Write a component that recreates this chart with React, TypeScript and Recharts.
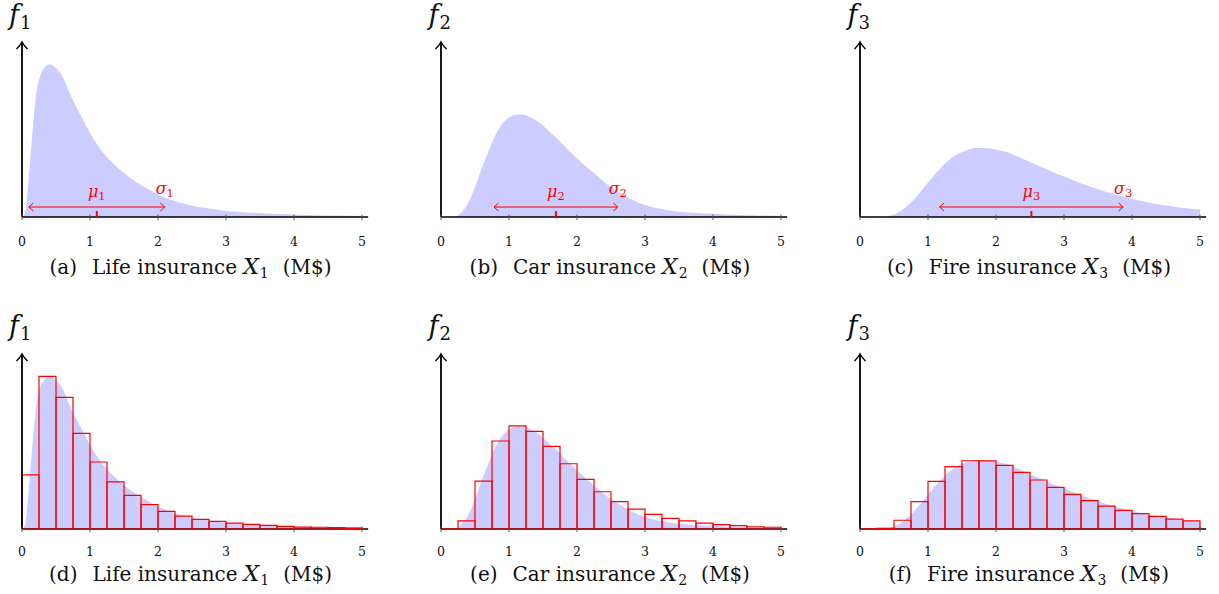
import React from 'react';
import {
  ComposedChart,
  Area,
  XAxis,
  YAxis,
  ReferenceArea,
  ReferenceLine,
  ReferenceDot,
} from 'recharts';

// ---------- data ----------
// x positions (M$) at which the densities are sampled
const X_GRID = [
  0, 0.05, 0.1, 0.15, 0.2, 0.3, 0.4, 0.5, 0.6, 0.7, 0.8, 0.9, 1.0, 1.1, 1.2, 1.3, 1.4, 1.5,
  1.6, 1.7, 1.8, 1.9, 2.0, 2.1, 2.2, 2.3, 2.4, 2.5, 2.6, 2.7, 2.8, 2.9, 3.0, 3.2, 3.4, 3.6,
  3.8, 4.0, 4.2, 4.4, 4.6, 4.8, 5.0,
];

const LIFE_DENSITY = [
  0, 0.029, 0.229, 0.463, 0.669, 0.834, 0.873, 0.851, 0.8, 0.709, 0.629, 0.554, 0.48, 0.417,
  0.365, 0.322, 0.285, 0.251, 0.22, 0.194, 0.171, 0.149, 0.129, 0.112, 0.097, 0.085, 0.074,
  0.065, 0.057, 0.051, 0.046, 0.04, 0.034, 0.029, 0.024, 0.02, 0.017, 0.014, 0.012, 0.01,
  0.008, 0.007, 0.006,
];

const CAR_DENSITY = [
  0, 0, 0, 0, 0.001, 0.026, 0.08, 0.171, 0.28, 0.377, 0.469, 0.531, 0.569, 0.585, 0.586,
  0.573, 0.551, 0.523, 0.486, 0.451, 0.411, 0.371, 0.334, 0.3, 0.267, 0.234, 0.2, 0.171,
  0.146, 0.123, 0.1, 0.083, 0.069, 0.049, 0.035, 0.027, 0.022, 0.018, 0.015, 0.012, 0.01,
  0.008, 0.006,
];

const FIRE_DENSITY = [
  0, 0, 0, 0, 0, 0.001, 0.005, 0.014, 0.034, 0.066, 0.103, 0.149, 0.197, 0.243, 0.286,
  0.323, 0.351, 0.371, 0.386, 0.394, 0.394, 0.391, 0.386, 0.377, 0.366, 0.349, 0.331, 0.314,
  0.297, 0.28, 0.263, 0.246, 0.231, 0.2, 0.171, 0.146, 0.123, 0.103, 0.086, 0.071, 0.06,
  0.05, 0.043,
];

// histogram bin edges (M$) and normalised bin heights
const BIN_EDGES = [
  0, 0.25, 0.5, 0.75, 1, 1.25, 1.5, 1.75, 2, 2.25, 2.5, 2.75, 3, 3.25, 3.5, 3.75, 4, 4.25,
  4.5, 4.75, 5,
];

const LIFE_HIST = [
  0.309, 0.872, 0.752, 0.547, 0.383, 0.269, 0.192, 0.139, 0.101, 0.074, 0.055, 0.044, 0.034,
  0.027, 0.021, 0.015, 0.011, 0.01, 0.008, 0.006,
];

const CAR_HIST = [
  0, 0.046, 0.274, 0.503, 0.589, 0.558, 0.472, 0.373, 0.284, 0.213, 0.156, 0.114, 0.084,
  0.061, 0.046, 0.034, 0.025, 0.019, 0.013, 0.01,
];

const FIRE_HIST = [
  0, 0.004, 0.05, 0.156, 0.272, 0.356, 0.39, 0.389, 0.364, 0.324, 0.28, 0.238, 0.198, 0.162,
  0.131, 0.107, 0.088, 0.072, 0.057, 0.046,
];

// mean and standard deviation of each claim size
const MEANS = [1.1, 1.69, 2.52];
const STD_DEVS = [1.0, 0.91, 1.35];

const X_TICKS = [0, 1, 2, 3, 4, 5];
const LINE_NAMES = ['Life', 'Car', 'Fire'];
const TOP_TAGS = ['a', 'b', 'c'];
const BOTTOM_TAGS = ['d', 'e', 'f'];

// ---------- layout & style ----------
const UNIT_PX = 68;
const X_END = 5.09;
const PLOT_W = X_END * UNIT_PX;
const PLOT_H = 175;
const M_TOP = 20;
const M_LEFT = 20;
const M_BOTTOM = 5;
const AXIS_H = 40;
const CHART_W = 380;
const CHART_H = M_TOP + PLOT_H + AXIS_H + M_BOTTOM;
const COL_X0 = [21.5, 441, 860];
const ROW_BASE = [217, 528.5];
const TICK_LABEL_DY = [28.7, 26.5];
const CAPTION_BASE = [274, 581];
const F_LABEL_BASE = [24, 335];
const ARROW_Y = 0.057;
const MU_TICK = 0.034;

const FONT = '"DejaVu Serif", serif';
const BLUE_FILL = '#ccccff';
const RED = '#ff0000';
const INK = '#111';

function AxisTick(props: any) {
  const { x, y, payload, labelDy } = props;
  return (
    <g>
      <line x1={x} x2={x} y1={y - 2.5} y2={y + 3} stroke="#555" strokeWidth={1} />
      <text
        x={x}
        y={y + labelDy}
        textAnchor="middle"
        fontFamily={FONT}
        fontSize={12.5}
        fill={INK}
      >
        {payload.value}
      </text>
    </g>
  );
}

type PanelProps = {
  row: number;
  col: number;
  density: number[];
  hist?: number[];
  showStats?: boolean;
};

function Panel({ row, col, density, hist, showStats }: PanelProps) {
  const data = X_GRID.map((x, i) => ({ x, f: density[i] }));
  const left = COL_X0[col] - M_LEFT;
  const top = ROW_BASE[row] - PLOT_H - M_TOP;
  const mu = MEANS[col];
  const sd = STD_DEVS[col];
  const sub = String(col + 1);

  return (
    <div style={{ position: 'absolute', left, top }}>
      <ComposedChart
        width={CHART_W}
        height={CHART_H}
        data={data}
        margin={{ top: M_TOP, left: M_LEFT, right: CHART_W - M_LEFT - PLOT_W, bottom: M_BOTTOM }}
      >
        <XAxis
          dataKey="x"
          type="number"
          domain={[0, X_END]}
          ticks={X_TICKS}
          interval={0}
          allowDataOverflow
          height={AXIS_H}
          tickSize={0}
          tickMargin={0}
          tickLine={false}
          axisLine={{ stroke: '#000', strokeWidth: 1.3 }}
          tick={<AxisTick labelDy={TICK_LABEL_DY[row]} />}
        />
        <YAxis hide type="number" domain={[0, 1]} allowDataOverflow />
        <Area
          dataKey="f"
          type="monotone"
          stroke="none"
          fill={BLUE_FILL}
          fillOpacity={1}
          dot={false}
          activeDot={false}
          isAnimationActive={false}
        />
        {hist &&
          hist.map((h, i) =>
            h > 0 ? (
              <ReferenceArea
                key={`bin-${i}`}
                x1={BIN_EDGES[i]}
                x2={BIN_EDGES[i + 1]}
                y1={0}
                y2={h}
                fill="none"
                fillOpacity={0}
                stroke={RED}
                strokeWidth={1.2}
                strokeOpacity={1}
                ifOverflow="visible"
                zIndex={600}
              />
            ) : (
              <ReferenceLine
                key={`bin-${i}`}
                segment={[
                  { x: BIN_EDGES[i], y: 0 },
                  { x: BIN_EDGES[i + 1], y: 0 },
                ]}
                stroke={RED}
                strokeWidth={1.3}
                ifOverflow="visible"
                zIndex={600}
              />
            ),
          )}
        <ReferenceLine
          segment={[
            { x: 0, y: 0 },
            { x: 0, y: 1 },
          ]}
          stroke="#000"
          strokeWidth={1.8}
          markerEnd="url(#axis-arrow)"
          ifOverflow="visible"
          zIndex={650}
        />
        {showStats && (
          <ReferenceLine
            segment={[
              { x: mu - sd, y: ARROW_Y },
              { x: mu + sd, y: ARROW_Y },
            ]}
            stroke={RED}
            strokeWidth={1}
            markerStart="url(#sd-arrow)"
            markerEnd="url(#sd-arrow)"
            ifOverflow="visible"
            zIndex={650}
          />
        )}
        {showStats && (
          <ReferenceLine
            segment={[
              { x: mu, y: 0 },
              { x: mu, y: MU_TICK },
            ]}
            stroke={RED}
            strokeWidth={2}
            ifOverflow="visible"
            zIndex={650}
          />
        )}
        {showStats && (
          <ReferenceDot
            x={mu}
            y={ARROW_Y}
            r={0}
            ifOverflow="visible"
            zIndex={650}
            shape={(p: any) => (
              <text x={p.cx} y={p.cy - 10} textAnchor="middle" fontFamily={FONT} fill={RED} fontSize={16}>
                <tspan fontStyle="italic">μ</tspan>
                <tspan fontSize={11.5} dy={2.5}>
                  {sub}
                </tspan>
              </text>
            )}
          />
        )}
        {showStats && (
          <ReferenceDot
            x={mu + sd}
            y={ARROW_Y}
            r={0}
            ifOverflow="visible"
            zIndex={650}
            shape={(p: any) => (
              <text x={p.cx} y={p.cy - 13} textAnchor="middle" fontFamily={FONT} fill={RED} fontSize={16}>
                <tspan fontStyle="italic">σ</tspan>
                <tspan fontSize={11.5} dy={2.5}>
                  {sub}
                </tspan>
              </text>
            )}
          />
        )}
      </ComposedChart>
    </div>
  );
}

function Caption({ row, col }: { row: number; col: number }) {
  const tag = row === 0 ? TOP_TAGS[col] : BOTTOM_TAGS[col];
  return (
    <text
      x={COL_X0[col] + 169}
      y={CAPTION_BASE[row]}
      textAnchor="middle"
      fontFamily={FONT}
      fontSize={20}
      fill={INK}
    >
      <tspan>({tag})</tspan>
      <tspan dx={15}>{`${LINE_NAMES[col]} insurance`}</tspan>
      <tspan dx={6} fontStyle="italic" fontSize={22}>
        X
      </tspan>
      <tspan fontSize={14} dx={1} dy={4}>
        {String(col + 1)}
      </tspan>
      <tspan dx={14} dy={-4}>
        (M$)
      </tspan>
    </text>
  );
}

function DensityLabel({ row, col }: { row: number; col: number }) {
  return (
    <text x={COL_X0[col] - 12.5} y={F_LABEL_BASE[row]} fontFamily={FONT} fontSize={27} fill={INK}>
      <tspan fontStyle="italic">f</tspan>
      <tspan fontSize={18} dx={1} dy={4.5}>
        {String(col + 1)}
      </tspan>
    </text>
  );
}

const DENSITIES = [LIFE_DENSITY, CAR_DENSITY, FIRE_DENSITY];
const HISTS = [LIFE_HIST, CAR_HIST, FIRE_HIST];

export default function App() {
  return (
    <div
      style={{
        position: 'absolute',
        left: 0,
        top: 0,
        width: 1219,
        height: 594,
        background: '#fff',
        overflow: 'hidden',
      }}
    >
      <svg width={0} height={0} style={{ position: 'absolute' }}>
        <defs>
          <marker
            id="axis-arrow"
            viewBox="-10 -8 12 16"
            markerWidth={12}
            markerHeight={16}
            refX={0}
            refY={0}
            markerUnits="userSpaceOnUse"
            orient="auto"
          >
            <path d="M-7,-5.5 Q-2.5,-1.2 0,0 Q-2.5,1.2 -7,5.5" fill="none" stroke="#000" strokeWidth={1.5} />
          </marker>
          <marker
            id="sd-arrow"
            viewBox="-8 -6 10 12"
            markerWidth={10}
            markerHeight={12}
            refX={0}
            refY={0}
            markerUnits="userSpaceOnUse"
            orient="auto-start-reverse"
          >
            <path d="M-4.5,-4 L0,0 L-4.5,4" fill="none" stroke={RED} strokeWidth={1} />
          </marker>
        </defs>
      </svg>

      {[0, 1, 2].map((c) => (
        <Panel key={`top-${c}`} row={0} col={c} density={DENSITIES[c]} showStats />
      ))}
      {[0, 1, 2].map((c) => (
        <Panel key={`bottom-${c}`} row={1} col={c} density={DENSITIES[c]} hist={HISTS[c]} />
      ))}

      <svg
        width={1219}
        height={594}
        style={{ position: 'absolute', left: 0, top: 0, pointerEvents: 'none' }}
      >
        {[0, 1].map((r) =>
          [0, 1, 2].map((c) => (
            <g key={`lab-${r}-${c}`}>
              <DensityLabel row={r} col={c} />
              <Caption row={r} col={c} />
            </g>
          )),
        )}
      </svg>
    </div>
  );
}
